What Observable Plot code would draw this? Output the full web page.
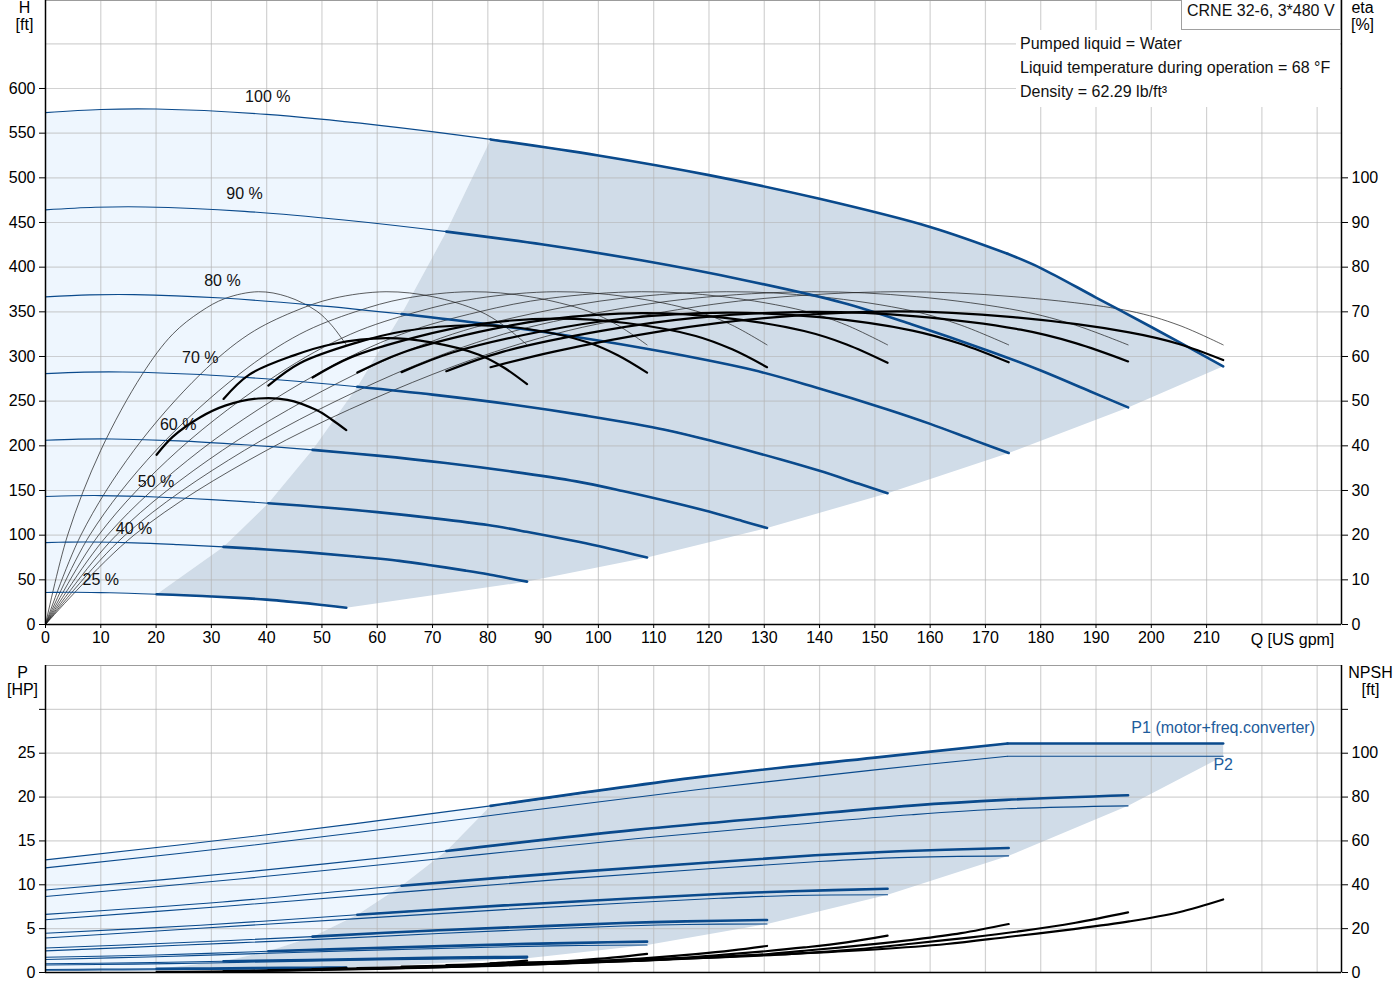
<!DOCTYPE html>
<html><head><meta charset="utf-8">
<script src="https://cdn.jsdelivr.net/npm/d3@7"></script>
<script src="https://cdn.jsdelivr.net/npm/@observablehq/plot@0.6"></script>
<style>
body{margin:0;background:#fff;font-family:"Liberation Sans",Arial,sans-serif;}
#wrap{position:relative;width:1400px;height:1000px;overflow:hidden;background:#fff}
#wrap svg{display:block;overflow:visible}
.box{position:absolute;background:#fff;font-size:16px;color:#111;white-space:nowrap;box-sizing:border-box}
</style></head><body><div id="wrap"></div>
<script>
// ---------- axes / ticks ----------
const qTicks = [0,10,20,30,40,50,60,70,80,90,100,110,120,130,140,150,160,170,180,190,200,210];
const qGrid = [10,20,30,40,50,60,70,80,90,100,110,120,130,140,150,160,170,180,190,200,210,220,230];
const hTicks = [0,50,100,150,200,250,300,350,400,450,500,550,600];
const hGrid = [50,100,150,200,250,300,350,400,450,500,550,600,650];
const etaTicks = [0,10,20,30,40,50,60,70,80,90,100];
const pTicks = [0,5,10,15,20,25,30];
const pGrid = [5,10,15,20,25,30];
const npshTicks = [0,20,40,60,80,100,120];
const qMax = 234.4, hMax = 698.5, pMax = 35;
const etaToH = 5;      // 100 % on the eta axis sits at 500 ft
const npshToP = 0.25;  // 100 ft NPSH sits at 25 HP

// ---------- speeds ----------
const speeds = ["100 %","90 %","80 %","70 %","60 %","50 %","40 %","25 %"];
const qStart = [80.5,72.5,64.4,56.4,48.3,40.3,32.2,20.1];
const labelQ = [40.2,36,32,28,24,20,16,10];
const labelH = [591,482.5,385,298,223,160,107.5,50];

// ---------- head curves H [ft] ----------
const headQ = [
 [0,10,20,40,60,80.5,100,120,140,160,174],
 [0,9,18,36,54,72.5,90,108,126,144,156.6,171,180,189,195.8],
 [0,8,16,32,48,64.4,80,96,112,128,139.2,152,160,168,174.2],
 [0,7,14,28,42,56.4,70,84,98,112,121.8,133,140,147,152.3],
 [0,6,12,24,36,48.3,60,72,84,96,104.4,114,120,126,130.5],
 [0,5,10,20,30,40.3,50,60,70,80,87,95,100,105,108.8],
 [0,4,8,16,24,32.2,40,48,56,64,69.6,76,80,84,87.1],
 [0,2.5,5,10,15,20.1,25,30,35,40,43.5,47.5,50,52.5,54.4]
];
const headH = [
 [573,576.5,577,571,559,543,525,503,476.5,445,415],
 [464.1,467,467.4,462.5,452.8,439.8,425.3,407.4,386,360.5,336.2,305.4,284.3,260.8,243],
 [366.7,369,369.3,365.4,357.8,347.5,336,321.9,305,284.8,265.6,241.3,224.6,206.1,192],
 [280.8,282.5,282.7,279.8,273.9,266.1,257.3,246.5,233.5,218.1,203.4,184.7,172,157.8,147],
 [206.3,207.5,207.7,205.6,201.2,195.5,189,181.1,171.5,160.2,149.4,135.7,126.4,115.9,108],
 [143.3,144.1,144.3,142.8,139.8,135.8,131.3,125.8,119.1,111.3,103.8,94.3,87.8,80.5,75],
 [91.7,92.2,92.3,91.4,89.4,86.9,84,80.5,76.2,71.2,66.4,60.3,56.2,51.5,48],
 [35.8,36,36.1,35.7,34.9,33.9,32.8,31.4,29.8,27.8,25.9,23.6,21.9,20.1,18.7]
];
// 100 % curve beyond the power limit
const headLimitQ = [174,180,190,200,213];
const headLimitH = [415,399,366,333,289];

// ---------- hydraulic efficiency (thin) eta [%] ----------
const etaHydraulic = [0,20,39,56,65,70,73,74.5,73.4,70.2,67,62.6];
const etaThinQ = [
 [0,16,40,70,92,112,130,154,175,196,205,213],
 [0,14.4,36,63,82.8,100.8,117,138.6,157.5,176.4,186.3,195.8],
 [0,12.8,32,56,73.6,89.6,104,123.2,140,156.8,165.6,174.2],
 [0,11.2,28,49,64.4,78.4,91,107.8,122.5,137.2,144.9,152.3],
 [0,9.6,24,42,55.2,67.2,78,92.4,105,117.6,124.2,130.5],
 [0,8,20,35,46,56,65,77,87.5,98,103.5,108.8],
 [0,6.4,16,28,36.8,44.8,52,61.6,70,78.4,82.8,87.1],
 [0,4,10,17.5,23,28,32.5,38.5,43.75,49,51.75,54.4]
];

// ---------- total efficiency (thick) eta [%] ----------
const etaTotQ = [
 [80.5,92,112,130,154,175,196,205,213],
 [72.5,82.8,100.8,117,138.6,157.5,176.4,186.3,195.8],
 [64.4,73.6,89.6,104,123.2,140,156.8,165.6,174.2],
 [56.4,64.4,78.4,91,107.8,122.5,137.2,144.9,152.3],
 [48.3,55.2,67.2,78,92.4,105,117.6,124.2,130.5],
 [40.3,46,56,65,77,87.5,98,103.5,108.8],
 [32.2,36.8,44.8,52,61.6,70,78.4,82.8,87.1],
 [20.1,23,28,32.5,38.5,43.75,49,51.75,54.4]
];
const etaTotV = [
 [57.6,61.1,65.8,68.6,70.1,68.8,65.4,62.8,59.2],
 [56.7,61.1,65.8,68.6,70.0,69.0,66.0,63.0,58.9],
 [56.5,60.9,65.6,68.4,69.8,68.8,65.8,62.8,58.7],
 [56.4,60.8,65.5,68.3,69.7,68.7,65.7,62.7,58.6],
 [55.3,59.8,64.4,67.2,68.5,67.5,64.6,61.6,57.6],
 [53.5,58.5,63,65.7,67,66.1,63.2,60.3,56.4],
 [50.5,55.9,60.2,62.8,64.1,63.1,60.4,57.6,53.8],
 [38,42,46.4,49,50.6,50.3,48,45.9,43.5]
];

// ---------- operating areas (top) ----------
const lightTopQ = [0,10,20,40,60,80.5,72.5,64.4,56.4,48.3,40.3,32.2,20.1,15,10,5,0];
const lightTopH = [573,576.5,577,571,559,543,439.8,347.5,266.1,195.5,135.8,86.9,33.9,34.9,35.7,36.1,35.8];
const darkTopQ = [20.1,32.2,40.3,48.3,56.4,64.4,72.5,80.5,100,120,140,160,174,180,190,200,213,195.8,174.2,152.3,130.5,108.8,87.1,54.4,52.5,50,47.5,43.5,40,35,30,25,20.1];
const darkTopH = [33.9,86.9,135.8,195.5,266.1,347.5,439.8,543,525,503,476.5,445,415,399,366,333,289,243,192,147,108,75,48,18.7,20.1,21.9,23.6,25.9,27.8,29.8,31.4,32.8,33.9];

// ---------- power curves P [HP] ----------
const powerQ = [
 [0,40,80.5,118.5,150,174],
 [0,36,72.5,106.7,135,156.6,173.7,195.8],
 [0,32,64.4,94.8,120,139.2,154.4,174.2],
 [0,28,56.4,83,105,121.8,135.1,152.3],
 [0,24,48.3,71.1,90,104.4,115.8,130.5],
 [0,20,40.3,59.3,75,87,96.5,108.8],
 [0,16,32.2,47.4,60,69.6,77.2,87.1],
 [0,10,20.1,29.6,37.5,43.5,48.3,54.4]
];
const p1 = [
 [12.84,15.7,19.0,22.3,24.5,26.1],
 [9.4,11.45,13.86,16.26,17.86,19.03,19.68,20.2],
 [6.63,8.04,9.89,11.42,12.54,13.36,13.82,14.2],
 [4.47,5.39,6.59,7.65,8.4,8.95,9.26,9.55],
 [2.8,3.39,4.09,4.82,5.29,5.64,5.83,5.99],
 [1.74,1.99,2.42,2.79,3.06,3.26,3.38,3.52],
 [1.0,1.1,1.28,1.43,1.57,1.67,1.73,1.78],
 [0.35,0.38,0.42,0.46,0.5,0.53,0.55,0.57]
];
const p2 = [
 [11.93,14.7,17.9,20.9,23.1,24.66],
 [8.67,10.72,13.05,15.24,16.84,17.98,18.66,19.0],
 [6.02,7.53,9.16,10.7,11.83,12.63,13.1,13.3],
 [3.94,5.04,6.14,7.17,7.92,8.46,8.78,8.86],
 [2.46,3.1,3.75,4.45,4.96,5.3,5.48,5.53],
 [1.48,1.8,2.2,2.55,2.8,2.98,3.08,3.14],
 [0.85,0.95,1.12,1.3,1.43,1.52,1.58,1.62],
 [0.25,0.28,0.32,0.36,0.4,0.42,0.44,0.46]
];
// 100 % power beyond the power limit (flat)
const powerLimitQ = [174,213];
const p1Limit = [26.1,26.1];
const p2Limit = [24.66,24.66];

// ---------- NPSH [ft] ----------
const npshQ = [
 [80.5,100,118.5,135,150,163,174,186,196,205,213],
 [72.5,90,106.7,121.5,135,146.7,156.6,167.4,176.4,186.3,195.8],
 [64.4,80,94.8,108,120,130.4,139.2,148.8,156.8,165.6,174.2],
 [56.4,70,83,94.5,105,114.1,121.8,130.2,137.2,144.9,152.3],
 [48.3,60,71.1,81,90,97.8,104.4,111.6,117.6,124.2,130.5],
 [40.3,50,59.3,67.5,75,81.5,87,93,98,103.5,108.8],
 [32.2,40,47.4,54,60,65.2,69.6,74.4,78.4,82.8,87.1],
 [20.1,25,29.6,33.75,37.5,40.75,43.5,46.5,49,51.75,54.4]
];
const npshV = [
 [4.2,5.4,6.9,8.5,10.5,13.0,16.2,19.8,23.3,27.5,33.3],
 [3.4,4.37,5.59,6.89,8.5,10.53,13.12,16.04,18.87,22.68,27.4],
 [2.69,3.46,4.42,5.44,6.72,8.32,10.37,12.67,14.91,17.92,22.1],
 [2.06,2.65,3.38,4.17,5.15,6.37,7.94,9.7,11.42,13.72,16.8],
 [1.51,1.94,2.48,3.06,3.78,4.68,5.83,7.13,8.39,10.08,12.1],
 [1.05,1.35,1.73,2.13,2.63,3.25,4.05,4.95,5.83,7.0,8.5],
 [0.67,0.86,1.1,1.36,1.68,2.08,2.59,3.17,3.73,4.48,5.44],
 [0.26,0.34,0.43,0.53,0.66,0.81,1.01,1.24,1.46,1.75,2.1]
];

// ---------- operating areas (bottom) ----------
const lightBotQ = [0,40,80.5,72.5,64.4,56.4,48.3,40.3,32.2,20.1,10,0];
const lightBotP = [12.84,15.7,19.0,13.86,9.89,6.59,4.09,2.42,1.28,0.42,0.28,0.25];
const darkBotQ = [20.1,32.2,40.3,48.3,56.4,64.4,72.5,80.5,118.5,150,174,213,213,195.8,174.2,152.3,130.5,108.8,87.1,54.4,43.5,29.6,20.1];
const darkBotP = [0.42,1.28,2.42,4.09,6.59,9.89,13.86,19.0,22.3,24.5,26.1,26.1,24.66,19.0,13.3,8.86,5.53,3.14,1.62,0.46,0.42,0.36,0.32];

const powerLabels = ["P1 (motor+freq.converter)","P2"];
const powerLabelQ = [213,213];
const powerLabelP = [27.9,23.7];

// ---------- helpers ----------
const series = (qs, vs) => speeds.flatMap((s, i) => qs[i].map((q, j) => ({speed: s, i, q, v: vs[i][j]})));
const limited = (qs, vs) => qs.map((q, j) => ({speed: "100 % limited", i: 0, q, v: vs[j]}));
const poly = (qs, vs) => qs.map((q, j) => ({q, v: vs[j]}));
const inRange = d => d.q >= qStart[d.i] - 1e-6;

const headRows = series(headQ, headH);
const headLimitRows = limited(headLimitQ, headLimitH);
const etaThinRows = series(etaThinQ, etaThinQ.map(() => etaHydraulic));
const etaTotRows = series(etaTotQ, etaTotV);
const p1Rows = series(powerQ, p1);
const p2Rows = series(powerQ, p2);
const p1LimitRows = limited(powerLimitQ, p1Limit);
const p2LimitRows = limited(powerLimitQ, p2Limit);
const npshRows = series(npshQ, npshV);
const labelRows = speeds.map((s, i) => ({s, q: labelQ[i], h: labelH[i]}));
const powerLabelRows = powerLabels.map((t, i) => ({t, q: powerLabelQ[i], p: powerLabelP[i]}));

const font = "'Liberation Sans', Arial, sans-serif";
const blue = "#0a4a8c";
const lightFill = "#eef6fe";
const darkFill = "#d0dce8";
const gridStroke = "#b4b4b4";
const frameStroke = "#9c9c9c";

const topPlot = Plot.plot({
  width: 1400, height: 655,
  marginLeft: 45, marginRight: 59, marginTop: 0, marginBottom: 31,
  style: {fontFamily: font, fontSize: "16px", color: "#000", background: "transparent", overflow: "visible"},
  x: {domain: [0, qMax]},
  y: {domain: [0, hMax]},
  marks: [
    Plot.line(poly(lightTopQ, lightTopH), {x: "q", y: "v", fill: lightFill, stroke: "none"}),
    Plot.line(poly(darkTopQ, darkTopH), {x: "q", y: "v", fill: darkFill, stroke: "none"}),
    Plot.ruleX(qGrid, {stroke: gridStroke, strokeOpacity: 0.6, strokeWidth: 1.2}),
    Plot.ruleY(hGrid, {stroke: gridStroke, strokeOpacity: 0.6, strokeWidth: 1.2}),
    Plot.line(etaThinRows, {x: "q", y: d => d.v * etaToH, z: "speed", stroke: "#1a1a1a", strokeWidth: 0.7, curve: "catmull-rom"}),
    Plot.line(headRows, {x: "q", y: "v", z: "speed", stroke: blue, strokeWidth: 1.1, curve: "catmull-rom"}),
    Plot.line(headRows.filter(inRange), {x: "q", y: "v", z: "speed", stroke: blue, strokeWidth: 2.6, curve: "catmull-rom"}),
    Plot.line(headLimitRows, {x: "q", y: "v", stroke: blue, strokeWidth: 2.6, curve: "catmull-rom"}),
    Plot.line(etaTotRows, {x: "q", y: d => d.v * etaToH, z: "speed", stroke: "#000", strokeWidth: 2.2, curve: "catmull-rom"}),
    Plot.text(labelRows, {x: "q", y: "h", text: "s", fontSize: 16, fill: "#111"}),
    Plot.frame({stroke: frameStroke}),
    Plot.ruleX([0, qMax], {stroke: "#000", strokeWidth: 1.5}),
    Plot.ruleY([0], {stroke: "#000", strokeWidth: 1.5}),
    Plot.axisX(qTicks, {tickSize: 4, tickPadding: 3, label: null, fontSize: 16}),
    Plot.axisY(hTicks, {anchor: "left", tickSize: 6, tickPadding: 4, label: null, fontSize: 16}),
    Plot.axisY(etaTicks.map(e => e * etaToH), {anchor: "right", tickSize: 6, tickPadding: 4, tickFormat: d => d / etaToH, label: null, fontSize: 16}),
    Plot.text(["H\n[ft]"], {text: d => d, frameAnchor: "top-left", dx: -21, dy: 16, textAnchor: "middle", lineAnchor: "middle", lineHeight: 1.06, fontSize: 16}),
    Plot.text(["eta\n[%]"], {text: d => d, frameAnchor: "top-right", dx: 21, dy: 16, textAnchor: "middle", lineAnchor: "middle", lineHeight: 1.06, fontSize: 16}),
    Plot.text(["Q [US gpm]"], {text: d => d, frameAnchor: "bottom-right", dx: -49, dy: 15, textAnchor: "middle", lineAnchor: "middle", fontSize: 16})
  ]
});

const botPlot = Plot.plot({
  width: 1400, height: 345,
  marginLeft: 45, marginRight: 59, marginTop: 10, marginBottom: 28,
  style: {fontFamily: font, fontSize: "16px", color: "#000", background: "transparent", overflow: "visible"},
  x: {domain: [0, qMax], axis: null},
  y: {domain: [0, pMax]},
  marks: [
    Plot.line(poly(lightBotQ, lightBotP), {x: "q", y: "v", fill: lightFill, stroke: "none"}),
    Plot.line(poly(darkBotQ, darkBotP), {x: "q", y: "v", fill: darkFill, stroke: "none"}),
    Plot.ruleX(qGrid, {stroke: gridStroke, strokeOpacity: 0.6, strokeWidth: 1.2}),
    Plot.ruleY(pGrid, {stroke: gridStroke, strokeOpacity: 0.6, strokeWidth: 1.2}),
    Plot.line(p2Rows, {x: "q", y: "v", z: "speed", stroke: blue, strokeWidth: 1.1, curve: "catmull-rom"}),
    Plot.line(p2LimitRows, {x: "q", y: "v", stroke: blue, strokeWidth: 1.1}),
    Plot.line(p1Rows, {x: "q", y: "v", z: "speed", stroke: blue, strokeWidth: 1.1, curve: "catmull-rom"}),
    Plot.line(p1Rows.filter(inRange), {x: "q", y: "v", z: "speed", stroke: blue, strokeWidth: 2.6, curve: "catmull-rom"}),
    Plot.line(p1LimitRows, {x: "q", y: "v", stroke: blue, strokeWidth: 2.6}),
    Plot.line(npshRows, {x: "q", y: d => d.v * npshToP, z: "speed", stroke: "#000", strokeWidth: 2.2, curve: "catmull-rom"}),
    Plot.text(powerLabelRows, {x: "q", y: "p", text: "t", fill: "#1d5c9c", fontSize: 16}),
    Plot.frame({stroke: frameStroke}),
    Plot.ruleX([0, qMax], {stroke: "#000", strokeWidth: 1.5}),
    Plot.ruleY([0], {stroke: "#000", strokeWidth: 1.5}),
    Plot.axisY(pTicks, {anchor: "left", tickSize: 6, tickPadding: 4, tickFormat: d => d > 25 ? "" : d, label: null, fontSize: 16}),
    Plot.axisY(npshTicks.map(n => n * npshToP), {anchor: "right", tickSize: 6, tickPadding: 4, tickFormat: d => d / npshToP > 100 ? "" : d / npshToP, label: null, fontSize: 16}),
    Plot.text(["P\n[HP]"], {text: d => d, frameAnchor: "top-left", dx: -23, dy: 16, textAnchor: "middle", lineAnchor: "middle", lineHeight: 1.06, fontSize: 16}),
    Plot.text(["NPSH\n[ft]"], {text: d => d, frameAnchor: "top-right", dx: 29, dy: 16, textAnchor: "middle", lineAnchor: "middle", lineHeight: 1.06, fontSize: 16})
  ]
});

const wrap = document.getElementById("wrap");
wrap.appendChild(topPlot);
wrap.appendChild(botPlot);

const title = document.createElement("div");
title.className = "box";
title.style.cssText = "left:1181px;top:-1px;width:160px;height:31px;border:1px solid #a0a0a0;padding-left:5px;line-height:22px;";
title.textContent = "CRNE 32-6, 3*480 V";
wrap.appendChild(title);

const info = document.createElement("div");
info.className = "box";
info.style.cssText = "left:1016px;top:30px;width:324px;height:77px;padding:2px 0 0 4px;line-height:24px;";
info.innerHTML = "Pumped liquid = Water<br>Liquid temperature during operation = 68 °F<br>Density = 62.29 lb/ft³";
wrap.appendChild(info);
</script></body></html>
